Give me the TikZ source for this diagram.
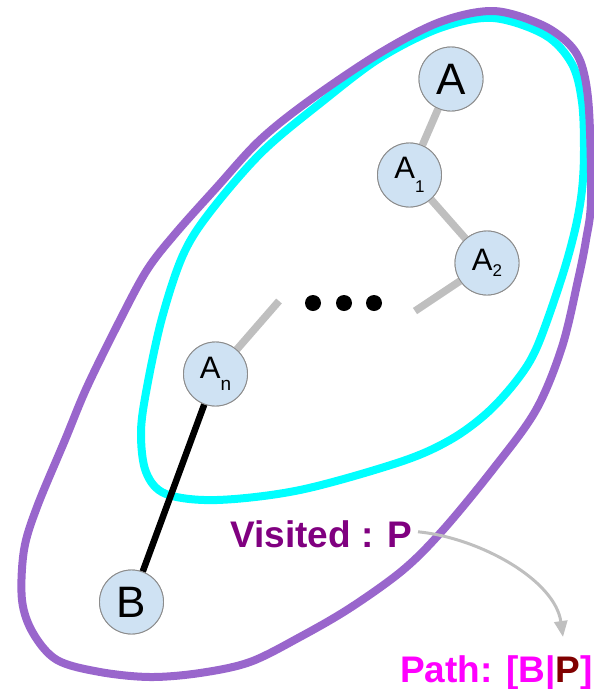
\documentclass[tikz,border=0pt]{standalone}
\usepackage{fontspec}
\setmainfont{Liberation Sans}
\usetikzlibrary{arrows.meta}
\definecolor{nodefill}{HTML}{CFE2F3}
\definecolor{nodeline}{HTML}{8C8C8C}
\definecolor{edgegray}{HTML}{BFBFBF}
\definecolor{loopviolet}{HTML}{9966CC}
\definecolor{loopcyan}{HTML}{00FFFF}
\definecolor{visitpurple}{HTML}{800080}
\definecolor{pathmagenta}{HTML}{FF00FF}
\definecolor{pathmaroon}{HTML}{800000}
\newcommand\subsz{\fontsize{17}{17}\selectfont}
\begin{document}
\begin{tikzpicture}[x=1pt,y=-1pt,
  vertex/.style={circle,draw=nodeline,line width=0.9pt,fill=nodefill,
    minimum size=64pt,inner sep=0pt},
  bigtxt/.style={font=\fontsize{44}{44}\selectfont},
  smalltxt/.style={font=\fontsize{31}{31}\selectfont},
  grayedge/.style={draw=edgegray,line width=7.5pt},
  blackedge/.style={draw=black,line width=6.5pt},
  loopline/.style={line width=8pt,line join=round},
  label/.style={font=\fontsize{37}{37}\selectfont\bfseries,inner sep=0pt,anchor=base west},
  dot/.style={circle,fill=black,minimum size=16pt,inner sep=0pt}]
\useasboundingbox (0,0) rectangle (594,689);

% inner (cyan) region
\draw[loopline,loopcyan] plot[smooth cycle,tension=0.55] coordinates {
  (380,58) (323,101) (262,152) (210,212) (183,255) (162,318) (147,387)
  (141,432) (146,472) (166,494) (217,500) (300,490) (400,462) (450,440)
  (487,413) (517,380) (537,347) (561,280) (575,230) (582,190) (584,150)
  (582,102) (572,64) (545,35) (493,18) (440,28)};

% outer (violet) region
\draw[loopline,loopviolet] plot[smooth cycle,tension=0.55] coordinates {
  (493,11) (540,24) (568,43) (582,66) (589,110) (591,200) (586,240)
  (578,280) (562,347) (536,410) (494,468) (443,530) (403,570) (350,608)
  (300,637) (250,662) (200,673) (150,677) (100,672) (57,660) (33,633)
  (22,600) (24,550) (37,507) (65,440) (87,387) (120,320) (147,270)
  (175,234) (217,187) (260,140) (310,100) (380,53) (440,22)};

% vertices
\node[vertex,bigtxt]   (A)  at (451,79)  {A};
\node[vertex,smalltxt] (A1) at (409.5,175) {A\raisebox{-14pt}{\subsz 1}};
\node[vertex,smalltxt] (A2) at (487,263) {A\raisebox{-6pt}{\subsz 2}};
\node[vertex,smalltxt] (An) at (215.5,374) {A\raisebox{-12pt}{\fontsize{19}{19}\selectfont n}};
\node[vertex,bigtxt]   (B)  at (131.5,602) {B};

% loose ends of the elided part of the chain
\coordinate (s2) at (415,311);
\coordinate (sn) at (279,301);

% edges
\draw[grayedge] (A) -- (A1);
\draw[grayedge] (A1) -- (A2);
\draw[grayedge] (A2) -- (s2);
\draw[grayedge] (An) -- (sn);
\draw[blackedge] (An) -- (B);

% ellipsis dots
\node[dot] (d1) at (313,303) {};
\node[dot] (d2) at (344,303) {};
\node[dot] (d3) at (374,303) {};

% redraw vertices over edge ends
\node[vertex,bigtxt]   at (A)  {A};
\node[vertex,smalltxt] at (A1) {A\raisebox{-14pt}{\subsz 1}};
\node[vertex,smalltxt] at (A2) {A\raisebox{-6pt}{\subsz 2}};
\node[vertex,smalltxt] at (An) {A\raisebox{-12pt}{\fontsize{19}{19}\selectfont n}};
\node[vertex,bigtxt]   at (B)  {B};

% labels
\node[label,text=visitpurple] (visited) at (230,547) {Visited : P};
\node[label,text=pathmagenta] (path) at (400,682)
  {Path: [B|\textcolor{pathmaroon}{P}]};
\coordinate (tip) at (563,637);

\draw[edgegray,line width=3pt,-{Triangle[length=16pt,width=13pt]}]
  ([xshift=6pt,yshift=2pt]visited.east) .. controls (480,538) and (555,580) .. (tip);
\end{tikzpicture}
\end{document}
